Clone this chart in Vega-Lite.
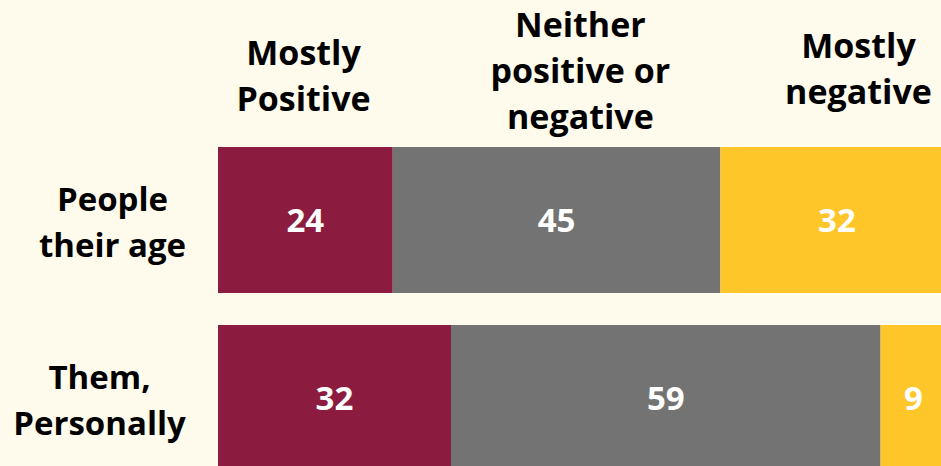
{
  "$schema": "https://vega.github.io/schema/vega-lite/v6.json",
  "width": 723,
  "height": 319,
  "autosize": {"type": "none"},
  "padding": {"left": 218, "top": 147, "right": 0, "bottom": 0},
  "background": "#FFFBEC",
  "config": {"view": {"stroke": null}, "font": "Open Sans"},
  "data": {
    "values": [
      {"group": "People their age", "category": "Mostly Positive", "value": 24},
      {"group": "People their age", "category": "Neither positive or negative", "value": 45},
      {"group": "People their age", "category": "Mostly negative", "value": 32},
      {"group": "Them, Personally", "category": "Mostly Positive", "value": 32},
      {"group": "Them, Personally", "category": "Neither positive or negative", "value": 59},
      {"group": "Them, Personally", "category": "Mostly negative", "value": 9}
    ]
  },
  "transform": [
    {"calculate": "indexof(['Mostly Positive','Neither positive or negative','Mostly negative'], datum.category)", "as": "ord"},
    {"stack": "value", "groupby": ["group"], "sort": [{"field": "ord", "order": "ascending"}], "as": ["v0", "v1"]},
    {"calculate": "(datum.v0 + datum.v1) / 2", "as": "mid"}
  ],
  "encoding": {
    "y": {
      "field": "group",
      "type": "nominal",
      "sort": ["People their age", "Them, Personally"],
      "scale": {"range": [0, 324], "paddingInner": 0.18, "paddingOuter": 0},
      "axis": {
        "title": null,
        "domain": false,
        "ticks": false,
        "tickSize": 0,
        "grid": false,
        "labelExpr": "datum.value == 'People their age' ? ['People', 'their age'] : ['Them,', 'Personally']",
        "labelAlign": "center",
        "labelBaseline": "middle",
        "labelLineHeight": 46,
        "labelPadding": {"condition": {"test": "datum.value == 'People their age'", "value": 106}, "value": 119},
        "labelOffset": -19,
        "labelFont": "Open Sans",
        "labelFontSize": 33,
        "labelFontWeight": "bold",
        "labelColor": "#000000",
        "labelLimit": 0
      }
    }
  },
  "layer": [
    {
      "mark": {"type": "bar", "clip": true},
      "encoding": {
        "x": {
          "field": "v0",
          "type": "quantitative",
          "scale": {"domain": [0, 99.3], "nice": false, "zero": true},
          "axis": {
            "orient": "top",
            "title": null,
            "domain": false,
            "ticks": false,
            "tickSize": 0,
            "grid": false,
            "values": [11.68, 49.7, 87.9],
            "labelExpr": "datum.value < 30 ? ['Mostly', 'Positive'] : datum.value < 70 ? ['Neither', 'positive or', 'negative'] : ['Mostly', 'negative']",
            "labelAlign": "center",
            "labelBaseline": "middle",
            "labelLineHeight": 46,
            "labelPadding": {"condition": [{"test": "datum.value < 30", "value": 93}, {"test": "datum.value < 70", "value": 121}], "value": 100},
            "labelOverlap": false,
            "labelBound": false,
            "labelFlush": false,
            "labelFont": "Open Sans",
            "labelFontSize": 34,
            "labelFontWeight": "bold",
            "labelColor": "#000000",
            "labelLimit": 0
          }
        },
        "x2": {"field": "v1"},
        "color": {
          "field": "category",
          "type": "nominal",
          "scale": {
            "domain": ["Mostly Positive", "Neither positive or negative", "Mostly negative"],
            "range": ["#8B1C3F", "#737373", "#FFC629"]
          },
          "legend": null
        }
      }
    },
    {
      "mark": {"type": "text", "color": "#FFFFFF", "font": "Open Sans", "fontSize": 33, "fontWeight": "bold", "align": "center", "baseline": "middle", "dy": 2},
      "encoding": {
        "x": {"field": "mid", "type": "quantitative"},
        "text": {"field": "value", "type": "quantitative"}
      }
    }
  ]
}
